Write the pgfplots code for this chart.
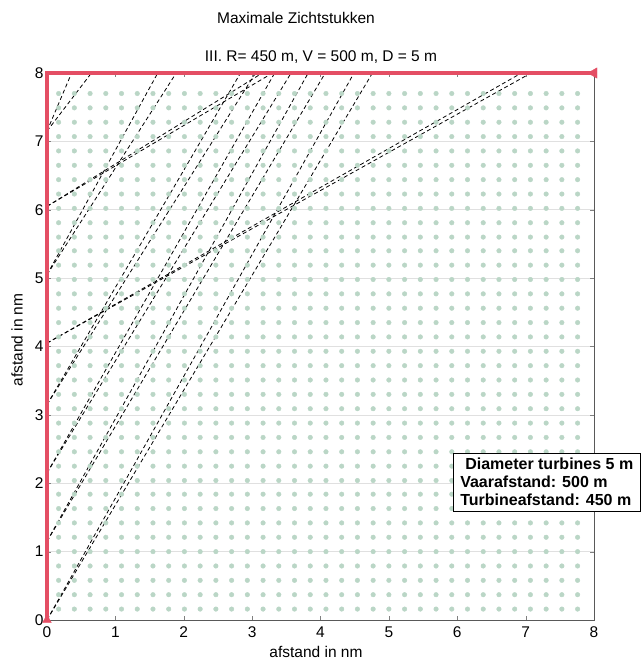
\documentclass[border=0pt]{standalone}
\usepackage{pgfplots}
\pgfplotsset{compat=1.18}
\usepackage{pgfplotstable}
\usepackage{fontspec}
\setmainfont{Liberation Sans}
\definecolor{dotc}{RGB}{186,214,198}
\definecolor{redl}{RGB}{228,78,100}

\pgfplotstableread{
x y
0.17 0
0.40 0
0.63 0
0.86 0
1.09 0
1.32 0
1.55 0
1.78 0
2.01 0
2.24 0
2.47 0
2.70 0
2.93 0
3.16 0
3.39 0
3.62 0
3.85 0
4.08 0
4.31 0
4.54 0
4.77 0
5.00 0
5.23 0
5.46 0
5.69 0
5.92 0
6.15 0
6.38 0
6.61 0
6.84 0
7.07 0
7.30 0
7.53 0
7.76 0
}\turbx

\begin{document}
\begin{tikzpicture}[x=1pt,y=1pt]
\path[use as bounding box] (0,0) rectangle (644,662);
\begin{axis}[
  at={(47pt,42pt)}, anchor=south west,
  width=547pt, height=547pt, scale only axis,
  xmin=0, xmax=8, ymin=0, ymax=8,
  xtick={0,1,...,8}, ytick={0,1,...,8},
  tick align=inside, major tick length=4pt,
  axis line style={black!65, line width=0.6pt},
  ymajorgrids, grid style={black!12, line width=0.5pt},
  /pgf/number format/assume math mode=true,
  ticklabel style={font=\fontsize{15.5}{15.5}\selectfont},
  xticklabel style={yshift=-3pt},
  clip=false,
]
\pgfplotsinvokeforeach{0.16,0.37,0.58,0.79,1.00,1.21,1.42,1.63,1.84,2.04,2.25,2.46,2.67,2.88,3.09,3.30,3.51,3.72,3.93,4.14,4.35,4.56,4.77,4.98,5.19,5.40,5.60,5.81,6.02,6.23,6.44,6.65,6.86,7.07,7.28,7.49,7.70}{
  \addplot[only marks, mark=*, color=dotc, mark size=2.3pt, mark options={draw=none, fill=dotc}] table[x=x, y expr=#1] {\turbx};
}
\pgfplotsset{sight/.style={black, line width=0.8pt, dash pattern=on 4pt off 2.8pt}}
% origin 0
\addplot[sight] coordinates {(0,0) (4.49,8)};
\addplot[sight] coordinates {(0,0) (4.76,8)};
% origin 1.15
\addplot[sight] coordinates {(0,1.15) (3.82,8)};
\addplot[sight] coordinates {(0,1.15) (4.07,8)};
% origin 2.15
\addplot[sight] coordinates {(0,2.15) (3.33,8)};
\addplot[sight] coordinates {(0,2.15) (3.57,8)};
% origin 3.15
\addplot[sight] coordinates {(0,3.15) (2.83,8)};
\addplot[sight] coordinates {(0,3.15) (3.05,8)};
% origin 4.05
\addplot[sight] coordinates {(0,4.05) (6.94,8)};
\addplot[sight] coordinates {(0,4.05) (7.08,8)};
% origin 5.05
\addplot[sight] coordinates {(0,5.05) (1.62,8)};
\addplot[sight] coordinates {(0,5.05) (1.89,8)};
% origin 6.05
\addplot[sight] coordinates {(0,6.05) (3.15,8)};
\addplot[sight] coordinates {(0,6.05) (3.30,8)};
% origin 7.15
\addplot[sight] coordinates {(0,7.15) (0.36,8)};
\addplot[sight] coordinates {(0,7.15) (0.65,8)};
% red border
\addplot[redl, line width=4pt] coordinates {(0,0) (0,8) (8,8)};
\addplot[only marks, mark=triangle*, mark size=6pt, mark options={redl, rotate=90}] coordinates {(8,8)};
\addplot[only marks, mark=triangle*, mark size=5pt, mark options={redl}] coordinates {(0,0)};
\end{axis}
\node[font=\fontsize{15.5}{15.5}\selectfont] at (296,644) {Maximale Zichtstukken};
\node[font=\fontsize{15.5}{15.5}\selectfont] at (321,605) {III. R= 450 m, V = 500 m, D = 5 m};
\node[font=\fontsize{15.5}{15.5}\selectfont, anchor=base] at (316,5) {afstand in nm};
\node[font=\fontsize{15.5}{15.5}\selectfont, rotate=90] at (17,322) {afstand in nm};
\node[draw=black, line width=0.6pt, fill=white, anchor=north west, align=left,
      inner xsep=3pt, inner ysep=5pt,
      font=\fontsize{16}{18}\selectfont\bfseries, minimum width=187pt] at (453,209)
  {\hspace*{5pt}Diameter turbines 5 m\\Vaarafstand: 500 m\\Turbineafstand: 450 m};
\end{tikzpicture}
\end{document}
